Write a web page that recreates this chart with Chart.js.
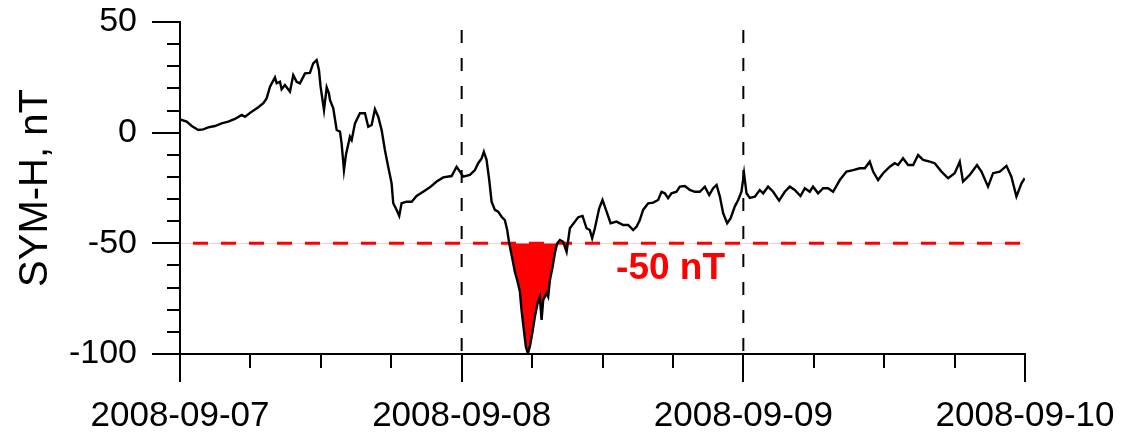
<!DOCTYPE html>
<html>
<head>
<meta charset="utf-8">
<script src="https://cdn.jsdelivr.net/npm/chart.js@4.4.1/dist/chart.umd.min.js"></script>
<style>
  body { margin: 0; background: #fff; }
  #wrap { width: 1130px; height: 433px; position: relative; }
</style>
</head>
<body>
<div id="wrap"><canvas id="symhChart"></canvas></div>
<script>
// SYM-H index, 2008-09-07 .. 2008-09-10
// time in hours since 2008-09-07 00:00 UT
const hours = [
  0.00, 0.57, 1.00, 1.56, 1.98, 2.41, 2.98, 3.55, 4.11, 4.68, 5.26, 5.54, 6.11, 6.67, 7.10, 7.38,
  7.67, 8.09, 8.24, 8.52, 8.66, 8.94, 9.37, 9.65, 9.94, 10.22, 10.65, 11.07, 11.35, 11.64, 11.84, 11.98,
  12.27, 12.50, 12.69, 12.78, 13.06, 13.35, 13.63, 13.77, 13.97, 14.14, 14.48, 14.63, 14.91, 15.33, 15.76, 16.04,
  16.33, 16.61, 16.89, 17.18, 17.46, 17.74, 18.03, 18.17, 18.46, 18.68, 18.88, 19.31, 19.74, 20.16, 20.72, 21.29,
  21.87, 22.43, 23.14, 23.57, 23.85, 24.13, 24.70, 25.13, 25.41, 25.70, 25.89, 26.12, 26.35, 26.55, 26.83, 27.11,
  27.40, 27.68, 27.88, 28.05, 28.34, 28.53, 28.73, 28.96, 29.10, 29.30, 29.47, 29.64, 29.81, 30.04, 30.24, 30.47,
  30.66, 30.81, 30.95, 31.24, 31.37, 31.52, 31.75, 31.94, 32.14, 32.37, 32.65, 32.94, 33.22, 33.65, 33.93, 34.30,
  34.64, 34.92, 35.12, 35.35, 35.72, 36.00, 36.35, 36.69, 37.20, 37.76, 38.19, 38.61, 38.90, 39.18, 39.46, 39.89,
  40.32, 40.74, 41.03, 41.31, 41.59, 41.88, 42.31, 42.59, 43.02, 43.44, 43.87, 44.29, 44.72, 45.09, 45.43, 45.72,
  46.00, 46.28, 46.62, 46.91, 47.27, 47.56, 47.84, 48.06, 48.27, 48.55, 48.98, 49.40, 49.69, 50.11, 50.54, 51.05,
  51.53, 51.96, 52.38, 52.87, 53.24, 53.66, 53.94, 54.37, 54.80, 55.22, 55.65, 56.22, 56.79, 57.35, 57.92, 58.35,
  58.77, 59.06, 59.48, 59.91, 60.48, 60.90, 61.18, 61.61, 62.04, 62.47, 62.89, 63.32, 63.88, 64.31, 64.88, 65.45,
  66.01, 66.44, 66.72, 67.29, 67.91, 68.29, 68.85, 69.28, 69.85, 70.42, 70.84, 71.27, 71.70, 71.98
];
// SYM-H, nT
const symH = [
  6.0, 5.0, 3.0, 1.2, 1.5, 2.4, 3.0, 4.2, 5.0, 6.2, 8.0, 7.2, 9.5, 11.5, 13.3, 15.5,
  20.8, 25.0, 22.3, 23.0, 19.6, 21.5, 18.5, 26.0, 23.0, 22.3, 26.8, 27.0, 31.3, 32.8, 28.3, 20.8,
  10.2, 20.5, 17.8, 14.8, 11.0, 1.2, 0.5, -4.8, -16.9, -10.0, -1.8, -3.3, 4.2, 8.8, 8.8, 2.7,
  3.5, 10.6, 7.2, 1.2, -7.8, -15.4, -22.9, -31.9, -34.9, -37.6, -31.9, -31.2, -31.2, -28.6, -26.7, -24.7,
  -22.1, -20.2, -19.6, -15.4, -17.6, -19.9, -19.1, -16.9, -13.8, -11.6, -8.6, -12.3, -21.4, -31.2, -34.9, -35.7,
  -38.0, -39.5, -44.0, -50.0, -57.5, -62.8, -66.6, -71.8, -80.1, -89.2, -96.7, -99.7, -96.7, -89.9, -83.1, -77.1,
  -74.1, -84.6, -75.6, -72.6, -74.1, -66.6, -60.6, -54.5, -50.0, -48.5, -49.3, -53.8, -43.2, -40.2, -38.2, -37.6,
  -43.2, -44.0, -47.7, -43.2, -34.2, -30.4, -35.7, -40.9, -40.2, -41.7, -41.7, -44.0, -42.5, -39.5, -34.9, -31.9,
  -31.6, -30.4, -26.7, -27.4, -29.6, -27.4, -26.7, -24.4, -24.1, -25.9, -26.7, -26.7, -24.4, -28.2, -25.1, -23.6,
  -28.9, -36.4, -40.9, -38.7, -33.4, -30.4, -26.7, -18.3, -27.4, -29.5, -28.9, -25.9, -27.4, -24.4, -26.7, -30.7,
  -26.7, -24.4, -25.9, -28.6, -25.1, -26.7, -24.4, -27.4, -25.1, -25.1, -26.7, -21.4, -17.6, -16.9, -16.1, -16.1,
  -13.1, -17.6, -21.4, -18.3, -15.4, -13.8, -14.6, -11.6, -14.6, -14.6, -10.1, -12.3, -13.1, -13.8, -17.6, -20.6,
  -18.3, -13.1, -22.1, -19.1, -14.6, -17.6, -24.4, -18.3, -17.6, -15.0, -19.9, -28.9, -22.9, -20.6
];
const dayLabels = ['2008-09-07', '2008-09-08', '2008-09-09', '2008-09-10'];
const stormLevel = -50;
const dayMarks = [24, 48];

const font = 'Liberation Sans, Arial, sans-serif';

// long/short tick marks and the "-50 nT" note
const axisTicks = {
    id: 'axisTicks',
    afterDraw(chart) {
        const ctx = chart.ctx;
        const xs = chart.scales.x, ys = chart.scales.y;
        ctx.save();
        ctx.strokeStyle = '#000';
        ctx.lineWidth = 2;
        ctx.beginPath();
        xs.ticks.forEach(t => {
            const px = Math.round(xs.getPixelForValue(t.value));
            const len = t.value % 24 === 0 ? 28 : 14;
            ctx.moveTo(px, xs.top);
            ctx.lineTo(px, xs.top + len);
        });
        ys.ticks.forEach(t => {
            const py = Math.round(ys.getPixelForValue(t.value));
            const len = t.value % 50 === 0 ? 28 : 13;
            ctx.moveTo(ys.right, py);
            ctx.lineTo(ys.right - len, py);
        });
        ctx.stroke();

        ctx.fillStyle = '#ff0000';
        ctx.font = 'bold 37px ' + font;
        ctx.textAlign = 'center';
        ctx.textBaseline = 'middle';
        ctx.fillText(stormLevel + ' nT', xs.getPixelForValue(41.8), ys.getPixelForValue(-61.3));
        ctx.restore();
    }
};

const symhPoints = hours.map((h, i) => ({ x: h, y: symH[i] }));

const datasets = [{
    data: symhPoints,
    borderColor: '#000',
    borderWidth: 2.4,
    pointRadius: 0,
    fill: { target: { value: stormLevel }, above: 'rgba(0,0,0,0)', below: '#ff0000' }
}, {
    data: [{ x: 0, y: stormLevel }, { x: 72, y: stormLevel }],
    borderColor: '#ff0000',
    borderWidth: 3,
    borderDash: [15, 13],
    borderDashOffset: 15,
    pointRadius: 0,
    fill: false
}];
dayMarks.forEach(d => {
    datasets.push({
        data: [{ x: d, y: 50 }, { x: d, y: -100 }],
        borderColor: '#000',
        borderWidth: 2,
        borderDash: [13, 15],
        borderDashOffset: 20,
        pointRadius: 0,
        fill: false
    });
});

new Chart(document.getElementById('symhChart'), {
    type: 'line',
    data: { datasets: datasets },
    options: {
        responsive: true,
        maintainAspectRatio: false,
        animation: false,
        layout: { padding: { top: 22, right: 105, left: 0, bottom: 0 } },
        plugins: {
            legend: { display: false },
            tooltip: { enabled: false }
        },
        scales: {
            x: {
                type: 'linear',
                min: 0,
                max: 72,
                afterFit: s => { s.height = 79; s.paddingLeft = 0; s.paddingRight = 0; },
                grid: { display: false, drawTicks: true, tickLength: 28 },
                border: { display: true, color: '#000', width: 2 },
                ticks: {
                    stepSize: 6,
                    autoSkip: false,
                    maxRotation: 0,
                    padding: 13,
                    color: '#000',
                    font: { family: font, size: 35 },
                    callback: v => v % 24 === 0 ? dayLabels[v / 24] : ''
                }
            },
            y: {
                min: -100,
                max: 50,
                afterFit: s => { s.width = 180; s.paddingTop = 0; s.paddingBottom = 0; },
                grid: { display: false, drawTicks: true, tickLength: 28 },
                border: { display: true, color: '#000', width: 2 },
                title: {
                    display: true,
                    text: 'SYM-H, nT',
                    color: '#000',
                    font: { family: font, size: 40 },
                    padding: { top: 12, bottom: 0 }
                },
                ticks: {
                    stepSize: 10,
                    autoSkip: false,
                    padding: 15,
                    color: '#000',
                    font: { family: font, size: 34 },
                    callback: v => v % 50 === 0 ? v : ''
                }
            }
        }
    },
    plugins: [axisTicks]
});
</script>
</body>
</html>
